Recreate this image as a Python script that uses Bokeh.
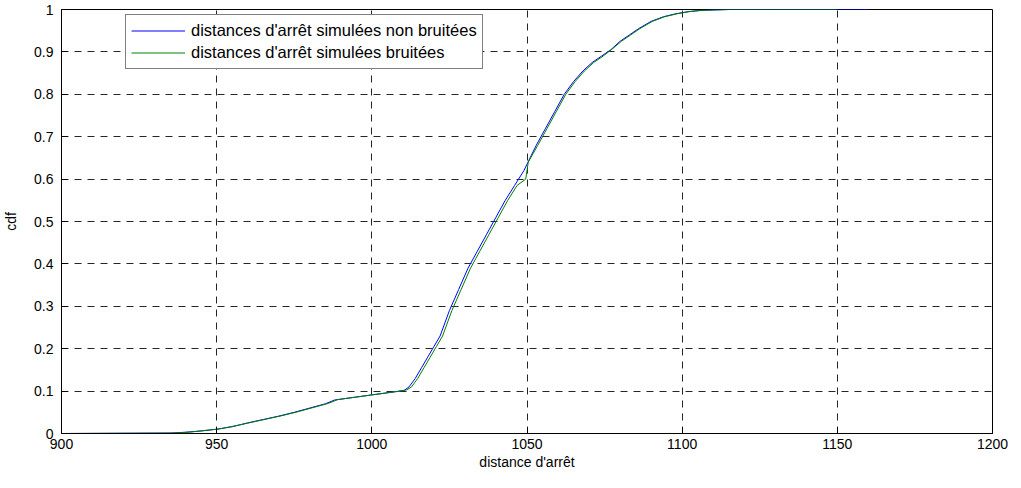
from bokeh.plotting import figure
from bokeh.models import FixedTicker, Legend, LegendItem, Range1d
from bokeh.embed import file_html
from bokeh.resources import INLINE

# ---- data ----
x_ticks = [900, 950, 1000, 1050, 1100, 1150, 1200]
y_ticks = [0, 0.1, 0.2, 0.3, 0.4, 0.5, 0.6, 0.7, 0.8, 0.9, 1.0]
y_tick_labels = ["0", "0.1", "0.2", "0.3", "0.4", "0.5", "0.6", "0.7", "0.8", "0.9", "1"]

blue_label = "distances d'arrêt simulées non bruitées"
blue_x = [900, 935, 940, 945, 950, 955, 960, 965, 970, 975, 980, 985, 988, 992, 996,
          1000, 1004, 1008, 1010.5, 1012, 1014, 1016, 1018, 1020, 1022, 1025, 1028, 1031,
          1034, 1037, 1040, 1043, 1046, 1049, 1051, 1053, 1056, 1059, 1062, 1065, 1068,
          1071, 1074, 1077, 1080, 1083, 1086, 1090, 1094, 1098, 1102, 1106, 1110, 1115,
          1130, 1160]
blue_y = [0, 0.001, 0.003, 0.006, 0.01, 0.016, 0.025, 0.033, 0.041, 0.05, 0.06, 0.07,
          0.079, 0.083, 0.087, 0.091, 0.095, 0.099, 0.102, 0.11, 0.13, 0.155, 0.18, 0.205,
          0.23, 0.29, 0.34, 0.39, 0.43, 0.47, 0.51, 0.55, 0.585, 0.62, 0.65, 0.68, 0.72,
          0.76, 0.8, 0.83, 0.855, 0.875, 0.89, 0.905, 0.925, 0.94, 0.955, 0.972, 0.983,
          0.99, 0.995, 0.998, 0.999, 1.0, 1.0, 1.0]

green_label = "distances d'arrêt simulées bruitées"
green_x = [900, 936, 941, 946, 951, 956, 961, 966, 971, 976, 981, 986, 989, 993, 997,
           1001, 1005, 1009, 1011.3, 1012.8, 1014.8, 1016.8, 1018.8, 1020.8, 1022.8,
           1025.8, 1028.8, 1031.8, 1034.8, 1037.8, 1040.8, 1043.8, 1046.8, 1049.6, 1050.4,
           1053.5, 1056.5, 1059.5, 1062.5, 1065.5, 1068.5, 1071.5, 1074.5, 1077.5, 1080.4,
           1083.4, 1086.4, 1090.4, 1094.4, 1098.4, 1102.4, 1106.4, 1110.4, 1115.4, 1150]
green_y = [0, 0.001, 0.003, 0.007, 0.011, 0.018, 0.026, 0.034, 0.042, 0.051, 0.061, 0.071,
           0.08, 0.084, 0.088, 0.092, 0.096, 0.1, 0.103, 0.11, 0.13, 0.155, 0.18, 0.205,
           0.23, 0.29, 0.34, 0.39, 0.43, 0.47, 0.51, 0.55, 0.585, 0.6, 0.64, 0.68, 0.72,
           0.76, 0.8, 0.83, 0.855, 0.875, 0.89, 0.907, 0.925, 0.94, 0.955, 0.972, 0.983,
           0.99, 0.995, 0.998, 0.999, 1.0, 1.0]

FONT = "Liberation Sans"
TICK_FS = "14px"

p = figure(width=1012, height=472, output_backend="svg", toolbar_location=None,
           x_range=Range1d(900, 1200), y_range=Range1d(0, 1),
           min_border_left=56, min_border_right=20, min_border_top=9, min_border_bottom=39,
           background_fill_color="white", border_fill_color="white")

p.outline_line_color = "black"
p.outline_line_width = 1

for ax in (p.xaxis[0], p.yaxis[0]):
    ax.axis_line_color = "black"
    ax.major_tick_line_color = "black"
    ax.major_tick_in = 6
    ax.major_tick_out = 0
    ax.minor_tick_line_color = None
    ax.major_label_text_font = FONT
    ax.major_label_text_font_size = TICK_FS
    ax.major_label_text_color = "black"
    ax.axis_label_text_font = FONT
    ax.axis_label_text_font_size = TICK_FS
    ax.axis_label_text_font_style = "normal"
    ax.axis_label_text_color = "black"

p.xaxis.ticker = FixedTicker(ticks=x_ticks)
p.yaxis.ticker = FixedTicker(ticks=y_ticks)
p.yaxis.major_label_overrides = {t: l for t, l in zip(y_ticks, y_tick_labels)}
p.xaxis.major_label_standoff = 5
p.yaxis.major_label_standoff = 8
p.xaxis.axis_label = "distance d'arrêt"
p.yaxis.axis_label = "cdf"
p.xaxis.axis_label_standoff = 2
p.yaxis.axis_label_standoff = 12

p.grid.grid_line_color = "black"
p.grid.grid_line_dash = "7 6"
p.grid.grid_line_alpha = 0.85
p.grid.grid_line_width = 1
p.xgrid.ticker = FixedTicker(ticks=x_ticks)
p.ygrid.ticker = FixedTicker(ticks=y_ticks)

r_blue = p.line(blue_x, blue_y, line_color="#0000ff", line_width=1)
r_green = p.line(green_x, green_y, line_color="#008000", line_width=1)

legend = Legend(items=[LegendItem(label=blue_label, renderers=[r_blue]),
                       LegendItem(label=green_label, renderers=[r_green])],
                location=(64, 364))
legend.border_line_color = "black"
legend.border_line_width = 1
legend.background_fill_color = "white"
legend.background_fill_alpha = 1
legend.label_text_font = FONT
legend.label_text_font_size = "16.5px"
legend.label_text_color = "black"
legend.padding = 5
legend.spacing = 1
legend.margin = 0
legend.glyph_width = 54
legend.glyph_height = 21
legend.label_height = 21
legend.label_standoff = 6
p.add_layout(legend)

open("out.html", "w").write(file_html(p, INLINE))
